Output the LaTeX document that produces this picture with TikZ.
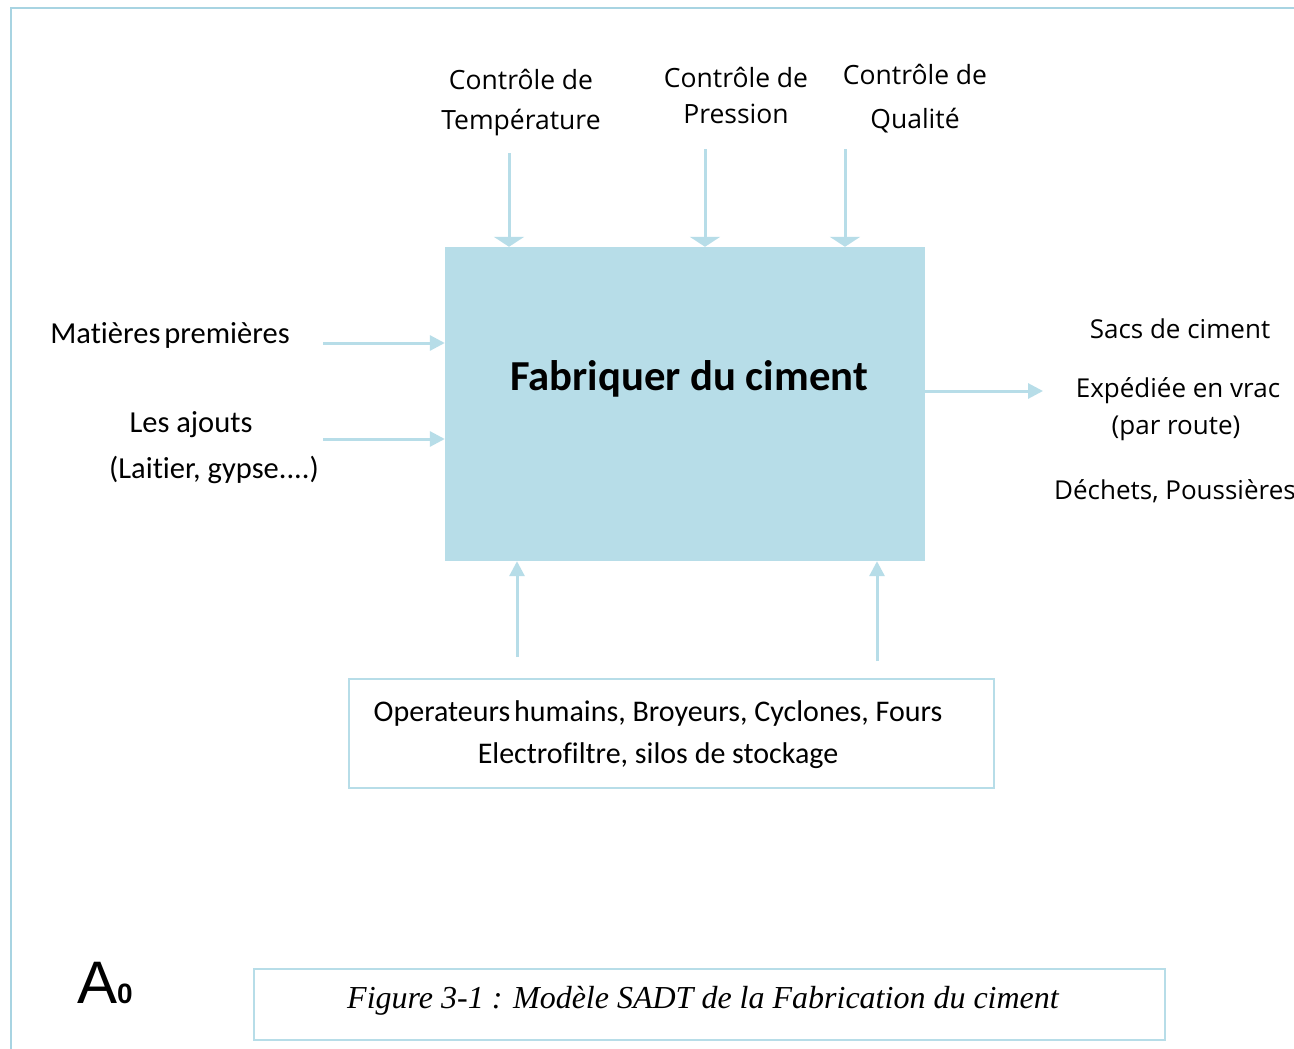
\documentclass[tikz,border=0pt]{standalone}
\usepackage{fontspec}
\setmainfont{Carlito}[Ligatures=NoCommon]
\newfontfamily\segfont{Open Sans}[Ligatures=NoCommon]
\newfontfamily\timesfont{Liberation Serif}
\newfontfamily\arialfont{Liberation Sans}
\usetikzlibrary{arrows.meta}
\definecolor{sadtblue}{HTML}{B7DDE8}
\definecolor{frameblue}{HTML}{A8D4E2}
\begin{document}
\begin{tikzpicture}[x=1pt,y=-1pt,
  flow/.style={draw=sadtblue, line width=3pt, -{Triangle[width=15pt,length=15pt]}},
  ctrlflow/.style={draw=sadtblue, line width=3pt, -{Triangle[width=30pt,length=10pt]}},
  lbl/.style={inner sep=0pt, font=\fontsize{30.5}{45}\selectfont, align=center},
  seglbl/.style={inner sep=0pt, font=\segfont\fontsize{26}{40}\selectfont, align=center},
  thinbox/.style={draw=sadtblue, line width=1.8pt, inner sep=0pt}
]
\useasboundingbox (0,0) rectangle (1294,1049);
\clip (0,0) rectangle (1294,1049);
\fill[white] (0,0) rectangle (1294,1049);
% outer frame
\coordinate (fbl) at (11,1060);
\coordinate (ftl) at (11,8);
\coordinate (ftr) at (1300,8);
\draw[frameblue, line width=2.5pt] (fbl) -- (ftl) -- (ftr);

% main activity box
\node[fill=sadtblue, minimum width=480pt, minimum height=314pt, inner sep=0pt] (main) at (685,404) {};
\node[inner sep=0pt, font=\bfseries\fontsize{42.7}{50}\selectfont] (title) at (689,379) {Fabriquer du ciment};

% controls
\node[seglbl, font=\segfont\fontsize{26.5}{40}\selectfont] (c1) at (521,103) {Contrôle de\\Température};
\node[seglbl, font=\segfont\fontsize{26.5}{36}\selectfont] (c2) at (736,95) {Contrôle de\\Pression};
\node[seglbl, font=\segfont\fontsize{26.5}{44}\selectfont] (c3) at (915,99) {Contrôle de\\Qualité};
\coordinate (t1) at (509,153);
\coordinate (t2) at (705,149);
\coordinate (t3) at (845,149);
\draw[ctrlflow] (t1) -- (t1 |- main.north);
\draw[ctrlflow] (t2) -- (t2 |- main.north);
\draw[ctrlflow] (t3) -- (t3 |- main.north);

% inputs
\node[lbl] (in1) at (170,335) {Matières\hspace{-0.1em} premières};
\node[lbl] (in2) at (191,425) {Les ajouts};
\node[lbl] (in3) at (214,470) {(Laitier, gypse....)};
\coordinate (l1) at (323,343);
\coordinate (l2) at (323,439);
\draw[flow] (l1) -- (l1 -| main.west);
\draw[flow] (l2) -- (l2 -| main.west);

% outputs
\node[seglbl] (o1) at (1180,329) {Sacs de ciment};
\node[seglbl] (o2) at (1178,391) {Expédiée en vrac};
\node[seglbl] (o3) at (1176,428) {(par route)};
\node[seglbl, anchor=west] (o4) at (1054,491) {Déchets, Poussières};
\coordinate (r1) at (1043,391);
\draw[flow] (main.east |- r1) -- (r1);

% mechanisms
\node[thinbox, minimum width=645pt, minimum height=109pt] (mech) at (671.5,733.5) {};
\node[lbl, font=\fontsize{30}{42}\selectfont] (mechtxt) at (658,735) {Operateurs\hspace{-0.1em} humains, Broyeurs, Cyclones, Fours\\Electrofiltre, silos de stockage};
\coordinate (b1) at (517,657);
\coordinate (b2) at (877,661);
\draw[flow] (b1) -- (b1 |- main.south);
\draw[flow] (b2) -- (b2 |- main.south);

% A0 and caption
\node[inner sep=0pt, anchor=base west] (azero) at (77,1003) {\arialfont\fontsize{60}{60}\selectfont A\fontsize{28}{28}\selectfont\bfseries 0};
\node[thinbox, minimum width=911pt, minimum height=71pt] (capbox) at (709.5,1004.5) {};
\node[inner sep=0pt, font=\timesfont\itshape\fontsize{32}{36}\selectfont] (caption) at (703,1001) {Figure 3-1 : Modèle SADT de la Fabrication du ciment};
\end{tikzpicture}
\end{document}
